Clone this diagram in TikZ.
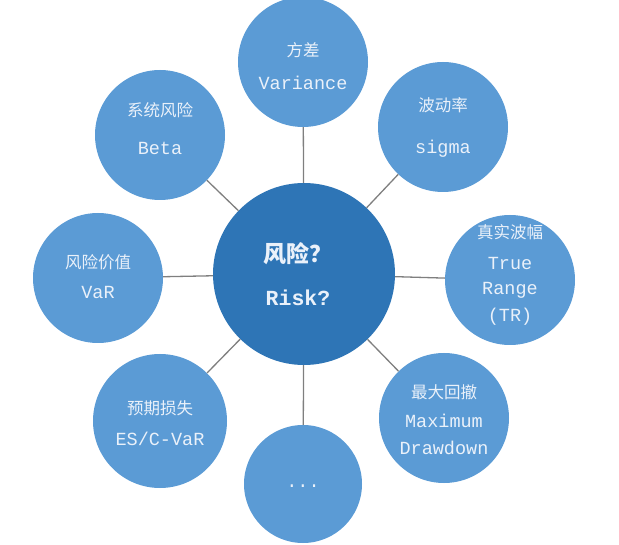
\documentclass[tikz,border=0pt]{standalone}
\usepackage{fontspec}
\newfontfamily\cjk{Noto Sans CJK SC}
\newfontfamily\lat{Liberation Mono}
\definecolor{hubblue}{HTML}{2E75B6}
\definecolor{leafblue}{HTML}{5B9BD5}
\definecolor{txtc}{HTML}{EAF1FA}
\definecolor{linec}{HTML}{7F7F7F}
\tikzset{
  hub/.style={circle,fill=hubblue,minimum size=182pt,inner sep=0pt},
  leaf/.style={circle,fill=leafblue,minimum size=130pt,inner sep=0pt},
  link/.style={draw=linec,line width=1.3pt},
  zh/.style={inner sep=0pt,text=txtc,font=\cjk\fontsize{16.5}{16.5}\selectfont},
  en/.style={inner sep=0pt,text=txtc,font=\lat\fontsize{18.5}{18.5}\selectfont},
  zhb/.style={inner sep=0pt,text=txtc,font=\cjk\bfseries\fontsize{23}{23}\selectfont},
  enb/.style={inner sep=0pt,text=txtc,font=\lat\bfseries\fontsize{21.5}{21.5}\selectfont},
}
\begin{document}
\begin{tikzpicture}[x=1pt,y=-1pt]
\useasboundingbox (0,0) rectangle (619,545);
\node[hub] (c) at (304,274) {};
\node[leaf] (n) at (303,62) {};
\node[leaf] (ne) at (443,127) {};
\node[leaf] (e) at (510,280) {};
\node[leaf] (se) at (444,418) {};
\node[leaf,minimum size=118pt] (s) at (303,484) {};
\node[leaf,minimum size=134pt] (sw) at (160,421) {};
\node[leaf] (w) at (98,278) {};
\node[leaf] (nw) at (160,135) {};
\foreach \o in {n,ne,e,se,s,sw,w,nw} \draw[link] (c) -- (\o);
% texts
\node[zhb] (c1) at (298,254) {风险？};
\node[enb] (c2) at (298,298) {Risk?};
\node[zh] (n1) at (303,50) {方差};
\node[en] (n2) at (303,83) {Variance};
\node[zh] (ne1) at (443,105) {波动率};
\node[en] (ne2) at (443,149) {sigma};
\node[zh] (e1) at (510,232) {真实波幅};
\node[en] (e2) at (510,263) {True};
\node[en] (e3) at (510,290) {Range};
\node[en] (e4) at (510,317) {(TR)};
\node[zh] (se1) at (444,392) {最大回撤};
\node[en] (se2) at (444,421) {Maximum};
\node[en] (se3) at (444,448) {Drawdown};
\node[en] (s1) at (303,486) {...};
\node[zh] (sw1) at (160,408) {预期损失};
\node[en] (sw2) at (160,439) {ES/C-VaR};
\node[zh] (w1) at (98,262) {风险价值};
\node[en] (w2) at (98,292) {VaR};
\node[zh] (nw1) at (160,110) {系统风险};
\node[en] (nw2) at (160,148) {Beta};
\end{tikzpicture}
\end{document}
